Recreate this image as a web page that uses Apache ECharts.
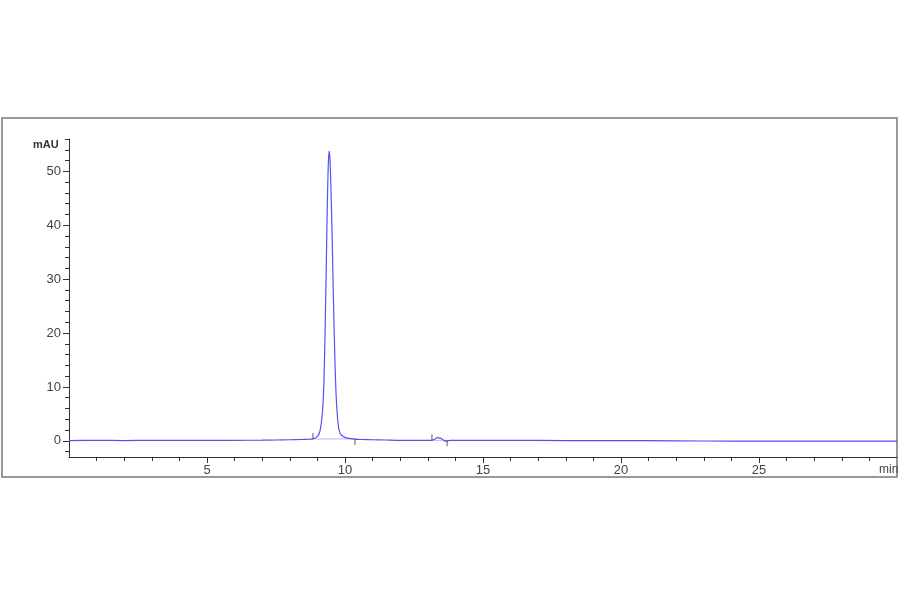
<!DOCTYPE html>
<html>
<head>
<meta charset="utf-8">
<script src="https://cdn.jsdelivr.net/npm/echarts@6/dist/echarts.min.js"></script>
<style>
  html, body { margin: 0; padding: 0; background: #fff; }
  #main { width: 900px; height: 594px; }
</style>
</head>
<body>
<div id="main"></div>
<script>
// retention time (min) and signal (mAU)
const times = [0, 1, 2, 3, 4, 5, 6, 7, 7.5, 8, 8.4, 8.7, 8.84, 8.95, 9.05, 9.1, 9.15, 9.2, 9.24, 9.28, 9.32, 9.36, 9.39, 9.42, 9.45, 9.48, 9.52, 9.56, 9.6, 9.64, 9.68, 9.72, 9.76, 9.8, 9.86, 9.92, 10.0, 10.1, 10.2, 10.36, 10.6, 11, 11.5, 12, 12.5, 13, 13.15, 13.25, 13.35, 13.45, 13.55, 13.65, 13.7, 13.8, 14, 15, 16, 18, 20, 22, 24, 25, 26, 28, 30]
const signal = [0.05, 0.1, 0.05, 0.1, 0.08, 0.1, 0.1, 0.12, 0.15, 0.2, 0.25, 0.3, 0.35, 0.6, 1.2, 2.0, 3.6, 6.5, 11.5, 20.5, 32.0, 44.0, 50.5, 53.7, 52.8, 48.8, 41.0, 31.5, 22.0, 14.0, 8.2, 4.8, 2.8, 1.7, 1.1, 0.85, 0.65, 0.5, 0.4, 0.3, 0.25, 0.2, 0.15, 0.1, 0.1, 0.1, 0.1, 0.3, 0.6, 0.5, 0.2, -0.1, 0.0, 0.1, 0.1, 0.1, 0.1, 0.05, 0.05, 0.0, -0.05, -0.05, -0.05, -0.05, -0.05]

// integration marks: [start, end] of each peak
const peakStart = [8.84, 13.15]
const peakEnd = [10.36, 13.7]
const baseY = [0.35, 0.1]

const xLabels = [5, 10, 15, 20, 25]
const yLabels = [0, 10, 20, 30, 40, 50]
const yMinor = [-2, 2, 4, 6, 8, 12, 14, 16, 18, 22, 24, 26, 28, 32, 34, 36, 38, 42, 44, 46, 48, 52, 54, 56]
const xMinor = [1, 2, 3, 4, 6, 7, 8, 9, 11, 12, 13, 14, 16, 17, 18, 19, 21, 22, 23, 24, 26, 27, 28, 29]

const trace = times.map((t, i) => [t, signal[i]])
const baselines = []
peakStart.forEach((s, i) => {
  baselines.push([s, baseY[i]], [peakEnd[i], baseY[i]], [null, null])
})

const chart = echarts.init(document.getElementById('main'))
const axisColor = '#333'
const labelColor = '#444'
const font = 'Liberation Sans, Arial, sans-serif'

chart.setOption({
  animation: false,
  grid: [
    { left: 69, right: 3, top: 139, bottom: 137 },
  ],
  xAxis: [
    {
      type: 'value', min: 0, max: 30,
      axisLine: { onZero: false, lineStyle: { color: axisColor } },
      splitLine: { show: false },
      axisTick: { customValues: xLabels, length: 6, lineStyle: { color: axisColor } },
      axisLabel: { customValues: xLabels, color: labelColor, fontSize: 13, fontFamily: font, margin: 7 },
    },
    {
      type: 'value', min: 0, max: 30, position: 'bottom',
      axisLine: { show: false, onZero: false },
      splitLine: { show: false },
      axisTick: { customValues: xMinor, length: 4, lineStyle: { color: axisColor } },
      axisLabel: { show: false },
    },
  ],
  yAxis: [
    {
      type: 'value', min: -3, max: 56,
      axisLine: { show: true, onZero: false, lineStyle: { color: axisColor } },
      splitLine: { show: false },
      axisTick: { show: true, customValues: yLabels, length: 6, lineStyle: { color: axisColor } },
      axisLabel: { customValues: yLabels, color: labelColor, fontSize: 13, fontFamily: font, margin: 8 },
    },
    {
      type: 'value', min: -3, max: 56, position: 'left',
      axisLine: { show: false, onZero: false },
      splitLine: { show: false },
      axisTick: { show: true, customValues: yMinor, length: 4, lineStyle: { color: axisColor } },
      axisLabel: { show: false },
    },
  ],
  graphic: [
    { type: 'rect', shape: { x: 2, y: 118, width: 895, height: 359 }, style: { fill: 'none', stroke: '#777', lineWidth: 1.5 }, silent: true },
    { type: 'text', left: 33, top: 139, style: { text: 'mAU', fill: '#333', font: 'bold 11px ' + font } },
    { type: 'text', left: 879, top: 464, style: { text: 'min', fill: labelColor, font: '12px ' + font } },
  ],
  series: [
    {
      type: 'line', data: baselines, showSymbol: false, connectNulls: false,
      lineStyle: { color: '#b8b8f0', width: 1 }, z: 1,
    },
    {
      type: 'line', data: trace, showSymbol: false, smooth: 0.2,
      lineStyle: { color: '#5252f4', width: 1.2 }, z: 2,
    },
    {
      type: 'scatter', data: peakStart.map((s, i) => [s, baseY[i]]),
      symbol: 'rect', symbolSize: [1, 6], symbolOffset: [0, -3],
      itemStyle: { color: '#333' }, z: 3,
    },
    {
      type: 'scatter', data: peakEnd.map((s, i) => [s, baseY[i]]),
      symbol: 'rect', symbolSize: [1, 6], symbolOffset: [0, 3],
      itemStyle: { color: '#333' }, z: 3,
    },
  ],
})
</script>
</body>
</html>
